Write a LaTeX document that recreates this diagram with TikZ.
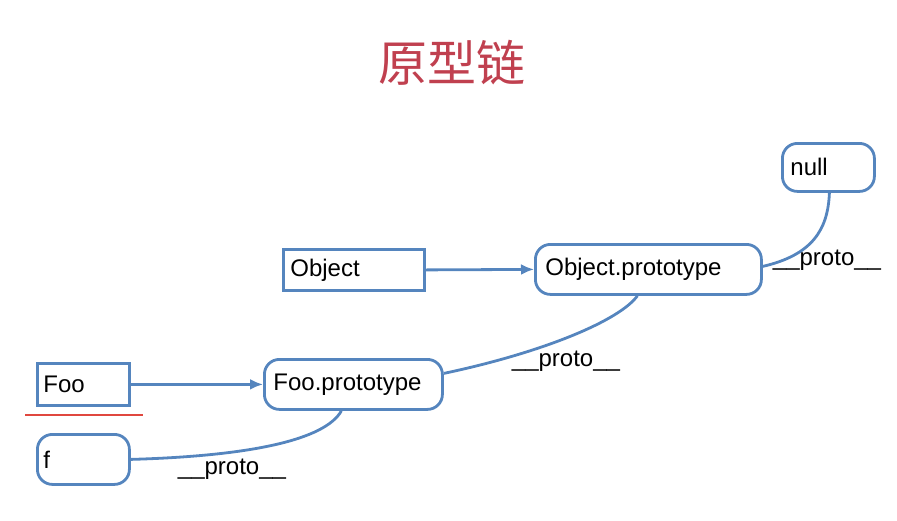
\documentclass[tikz,border=0pt]{standalone}
\usepackage{fontspec}
\setmainfont{Liberation Sans}
\newfontfamily\cjk{Noto Sans CJK SC}
\usetikzlibrary{arrows.meta,calc}
\definecolor{lineblue}{HTML}{5585BE}
\definecolor{titlered}{HTML}{C0404F}
\definecolor{ulred}{HTML}{E0473F}
\tikzset{
  x=1pt,y=-1pt,
  base/.style={draw=lineblue, line width=2.8pt, anchor=north west, inner sep=0pt,
     font=\fontsize{24}{28}\selectfont, align=left},
  rbox/.style={base, rounded corners=15pt},
  sbox/.style={base},
  conn/.style={draw=lineblue, line width=2.8pt},
  arr/.style={conn, -{Latex[length=13pt,width=11pt]}},
  lbl/.style={font=\fontsize{24}{28}\selectfont, inner sep=0pt}
}
\begin{document}
\begin{tikzpicture}
\useasboundingbox (0,0) rectangle (897,520);
\node[titlered, font=\cjk\fontsize{49}{54}\selectfont] (title) at (452,63) {原型链};

\node[sbox, minimum width=141pt, minimum height=41pt, text width=127pt] (obj) at (282,248) {Object};
\node[rbox, minimum width=226pt, minimum height=50pt, text width=206pt] (op) at (534,243) {Object.prototype};
\node[rbox, minimum width=92pt, minimum height=48pt, text width=76pt] (nul) at (781,142) {null};
\node[sbox, minimum width=92pt, minimum height=42pt, text width=80pt] (foo) at (36,362) {Foo};
\node[rbox, minimum width=178pt, minimum height=50pt, text width=160pt] (fp) at (263,358) {Foo.prototype};
\node[rbox, minimum width=92pt, minimum height=50pt, text width=80pt] (f) at (36,433) {f};

\coordinate (ulL) at (25,415);
\coordinate (ulR) at (143,415);
\draw[ulred, line width=1.8pt] (ulL) -- (ulR);

\draw[arr] (obj.east) -- (op.west);
\draw[arr] (foo.east) -- (fp.west);

\draw[conn] (f.east) .. controls (250,456) and (325,440) .. ($(fp.south)+(-12,0)$);
\draw[conn] ($(fp.east)+(0,-11)$) .. controls (545,352) and (620,320) .. ($(op.south)+(-11,0)$);
\draw[conn] ($(op.east)+(0,-3)$) .. controls (812,255) and (828,230) .. ($(nul.south)+(1,0)$);

\node[lbl] (l1) at (232,469) {\_\_proto\_\_};
\node[lbl] (l2) at (566,361) {\_\_proto\_\_};
\node[lbl] (l3) at (827,260) {\_\_proto\_\_};
\end{tikzpicture}
\end{document}
